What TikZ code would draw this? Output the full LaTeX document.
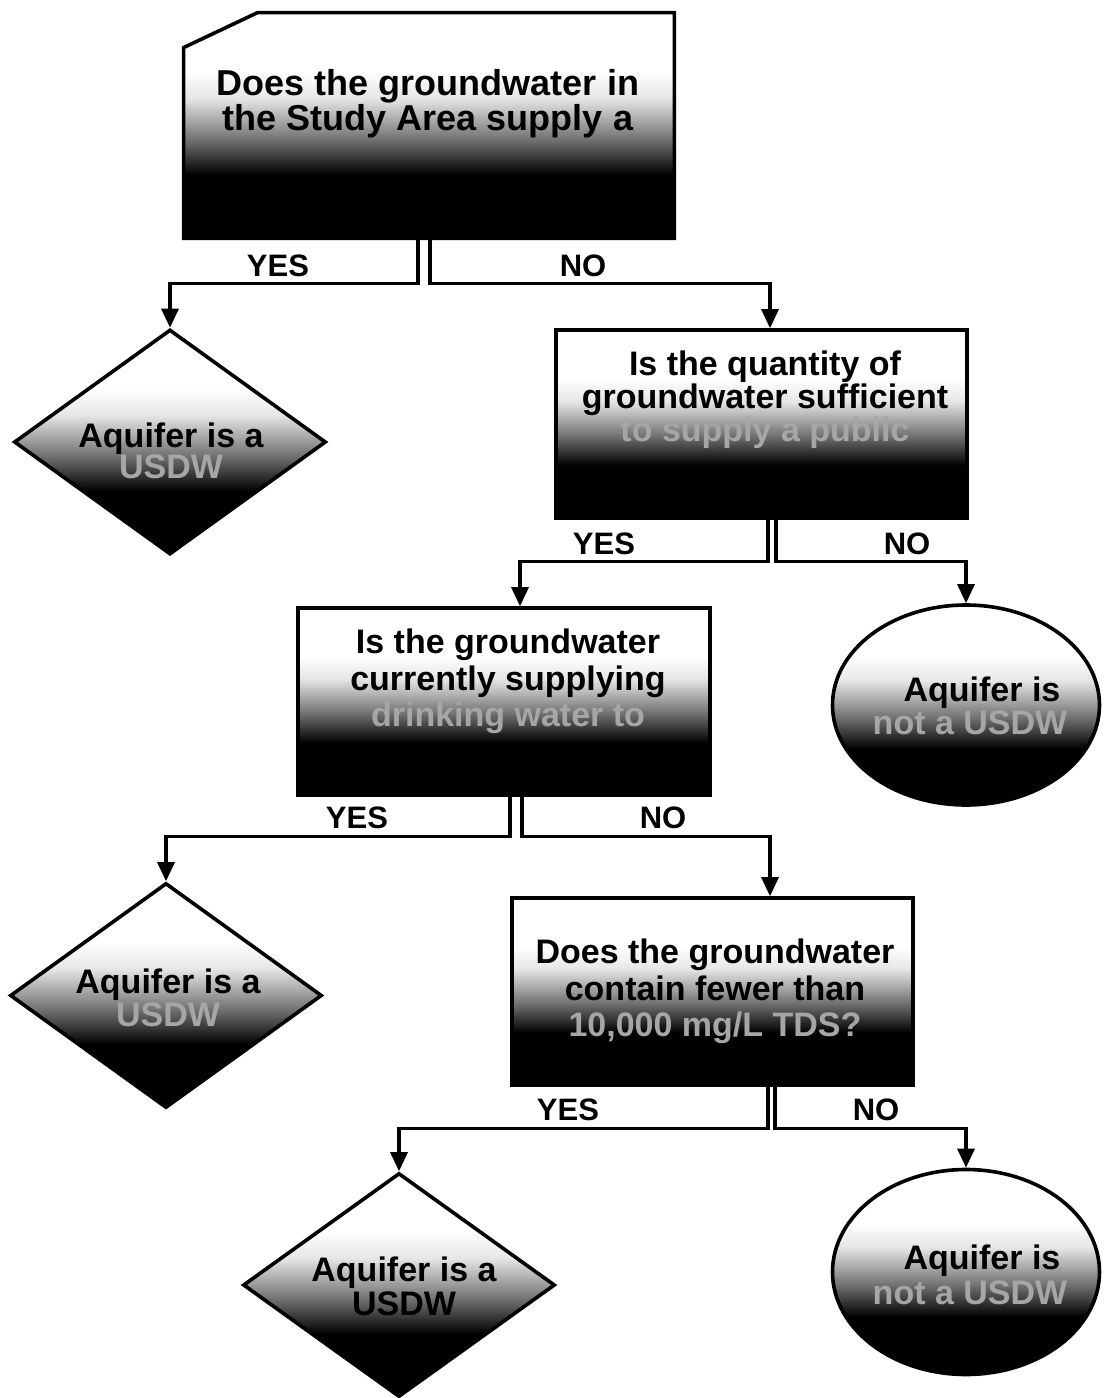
\documentclass[tikz,border=0pt]{standalone}
\usepackage{fontspec}
\setmainfont{Liberation Sans}
\usetikzlibrary{shapes.geometric,arrows.meta}
\pgfdeclareverticalshading{fadedark}{100bp}{color(0bp)=(black); color(25bp)=(black); color(39bp)=(black); color(47bp)=(black!55); color(56bp)=(black!10); color(62bp)=(white); color(75bp)=(white); color(100bp)=(white)}
\begin{document}
\begin{tikzpicture}[x=0.5pt,y=-0.5pt,
  shp/.style={draw, line width=1.8pt, shade, shading=fadedark, inner sep=0pt},
  box/.style={shp, rectangle},
  dia/.style={shp, diamond},
  ell/.style={shp, ellipse},
  qtxt/.style={font=\bfseries\fontsize{17pt}{18pt}\selectfont, inner sep=0pt, anchor=base},
  qtxtbig/.style={qtxt, font=\bfseries\fontsize{18pt}{19pt}\selectfont},
  dim/.style={text=black!35},
  lbl/.style={font=\bfseries\fontsize{15.5pt}{15.5pt}\selectfont, inner sep=0pt},
  conn/.style={line width=1.6pt, -{Triangle[width=8.5pt,length=9.5pt]}}]
\useasboundingbox (0,0) rectangle (1111,1398);
\fill[white] (0,0) rectangle (1111,1398);

% top question box (chamfered corner)
\node[rectangle, inner sep=0pt, minimum width=245pt, minimum height=112.5pt] (q1) at (429,125.5) {};
\path[draw, line width=1.8pt, shade, shading=fadedark]
  (q1.south west) -- (q1.south east) -- (q1.north east)
  -- ([xshift=37pt]q1.north west) -- ([yshift=-17.5pt]q1.north west) -- cycle;

% other boxes
\node[box, minimum width=205.5pt, minimum height=94pt] (q2) at (761.5,424) {};
\node[box, minimum width=206pt, minimum height=93.5pt] (q3) at (504,701.5) {};
\node[box, minimum width=200.5pt, minimum height=93.5pt] (q4) at (712.5,991.5) {};

% outcomes
\node[dia, minimum width=156pt, minimum height=112.5pt] (d1) at (170,442) {};
\node[dia, minimum width=156pt, minimum height=112.5pt] (d2) at (166,995.5) {};
\node[dia, minimum width=156pt, minimum height=112pt] (d3) at (399,1285) {};
\node[ell, minimum width=133.5pt, minimum height=100pt] (e1) at (966,705) {};
\node[ell, minimum width=133.5pt, minimum height=102.5pt] (e2) at (966,1272) {};

% texts
\node[qtxtbig] (t1a) at (428,95) {Does the groundwater in};
\node[qtxtbig] (t1b) at (428,130) {the Study Area supply a};

\node[qtxt] (t2a) at (765,375) {Is the quantity of};
\node[qtxt] (t2b) at (765,408) {groundwater sufficient};
\node[qtxt,dim] (t2c) at (765,441) {to supply a public};

\node[qtxt] (t3a) at (508,653) {Is the groundwater};
\node[qtxt] (t3b) at (508,690) {currently supplying};
\node[qtxt,dim] (t3c) at (508,726) {drinking water to};

\node[qtxt] (t4a) at (715,963) {Does the groundwater};
\node[qtxt] (t4b) at (715,1000) {contain fewer than};
\node[qtxt,dim] (t4c) at (715,1036) {10,000 mg/L TDS?};

\node[qtxt] (u1a) at (171,447) {Aquifer is a};
\node[qtxt,dim] (u1b) at (171,478) {USDW};
\node[qtxt] (u2a) at (168,993) {Aquifer is a};
\node[qtxt,dim] (u2b) at (168,1026) {USDW};
\node[qtxt] (u3a) at (404,1281) {Aquifer is a};
\node[qtxt] (u3b) at (404,1315) {USDW};

\node[qtxt] (v1a) at (982,701) {Aquifer is};
\node[qtxt,dim] (v1b) at (970,734) {not a USDW};
\node[qtxt] (v2a) at (982,1269) {Aquifer is};
\node[qtxt,dim] (v2b) at (970,1304) {not a USDW};

% branch labels
\node[lbl] (y1) at (278,266) {YES};
\node[lbl] (n1) at (583,266) {NO};
\node[lbl] (y2) at (604,544) {YES};
\node[lbl] (n2) at (907,544) {NO};
\node[lbl] (y3) at (357,818) {YES};
\node[lbl] (n3) at (663,818) {NO};
\node[lbl] (y4) at (568,1110) {YES};
\node[lbl] (n4) at (876,1110) {NO};

% connectors
\draw[conn] ([xshift=-5.5pt]q1.south) -- ++(0,45) -| (d1.north);
\draw[conn] ([xshift=0.5pt]q1.south) -- ++(0,45) -| ([xshift=4.25pt]q2.north);
\draw[conn] ([xshift=3.25pt]q2.south) -- ++(0,42) -| ([xshift=8pt]q3.north);
\draw[conn] ([xshift=7.25pt]q2.south) -- ++(0,42) -| (e1.north);
\draw[conn] ([xshift=3pt]q3.south) -- ++(0,40) -| (d2.north);
\draw[conn] ([xshift=9pt]q3.south) -- ++(0,40) -| ([xshift=28.75pt]q4.north);
\draw[conn] ([xshift=27.75pt]q4.south) -- ++(0,42) -| (d3.north);
\draw[conn] ([xshift=31.25pt]q4.south) -- ++(0,42) -| (e2.north);
\end{tikzpicture}
\end{document}
